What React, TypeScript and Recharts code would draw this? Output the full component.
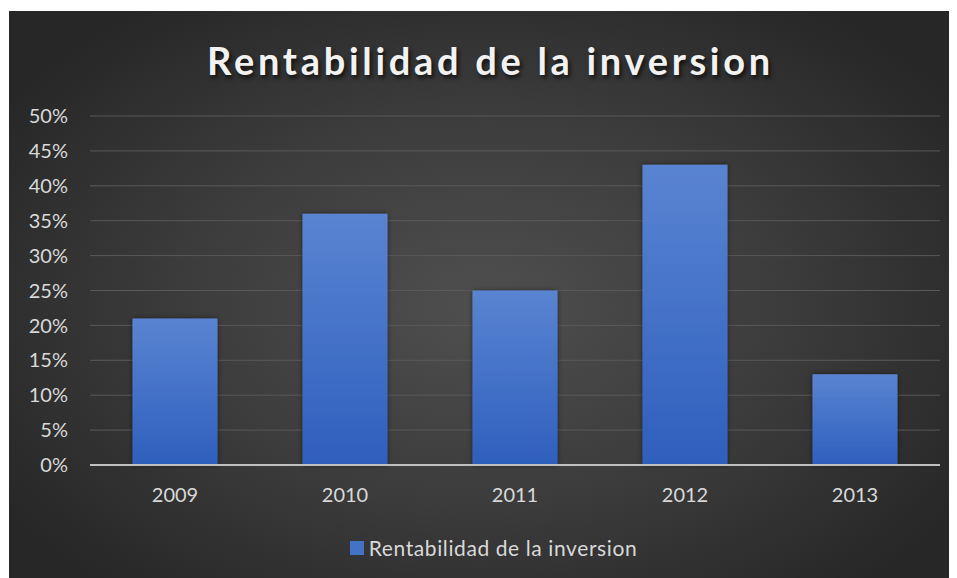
import { BarChart, Bar, XAxis, YAxis, CartesianGrid } from 'recharts';

const years = ['2009', '2010', '2011', '2012', '2013'];
const rentabilidad = [0.21, 0.36, 0.25, 0.43, 0.13];
const yTicks = [0, 0.05, 0.1, 0.15, 0.2, 0.25, 0.3, 0.35, 0.4, 0.45, 0.5];

const seriesName = 'Rentabilidad de la inversion';
const FONT = 'Lato, "Open Sans", sans-serif';

const data = years.map((year, i) => ({ year, value: rentabilidad[i] }));

export default function App() {
  return (
    <div
      style={{
        position: 'relative',
        width: 947,
        height: 567,
        marginTop: 3,
        marginLeft: 1,
        background: 'radial-gradient(ellipse 60% 65% at 50% 52%, #4f4f4f 0%, #3b3b3b 55%, #272727 100%)',
        fontFamily: FONT,
        overflow: 'hidden',
      }}
    >
      <div
        style={{
          position: 'absolute',
          top: 26,
          left: 8,
          width: 947,
          textAlign: 'center',
          color: '#f2f2f2',
          fontSize: 38,
          fontWeight: 700,
          letterSpacing: 3.7,
          textShadow: '2px 3px 4px rgba(0,0,0,0.7)',
        }}
      >
        {seriesName}
      </div>
      <BarChart
        width={947}
        height={567}
        data={data}
        margin={{ top: 105, right: 16, bottom: 83, left: 0 }}
        barCategoryGap="25%"
      >
        <defs>
          <linearGradient id="barFill" x1="0" y1="0" x2="0" y2="1">
            <stop offset="0%" stopColor="#5a84d2" />
            <stop offset="100%" stopColor="#2e5fbd" />
          </linearGradient>
          <filter id="barShadow" x="-20%" y="-20%" width="140%" height="140%">
            <feDropShadow dx="0" dy="0" stdDeviation="2.5" floodColor="#000" floodOpacity="0.5" />
          </filter>
        </defs>
        <CartesianGrid vertical={false} stroke="#595959" strokeWidth={1} />
        <XAxis
          dataKey="year"
          height={30}
          axisLine={{ stroke: '#c0c0c0', strokeWidth: 2 }}
          tickLine={false}
          tickSize={0}
          tickMargin={23}
          tick={{ fill: '#d9d9d9', fontSize: 20, fontFamily: FONT }}
        />
        <YAxis
          domain={[0, 0.5]}
          ticks={yTicks}
          interval={0}
          width={81}
          axisLine={false}
          tickLine={false}
          tickSize={0}
          tickMargin={22}
          tickFormatter={(v: number) => `${Math.round(v * 100)}%`}
          tick={{ fill: '#d9d9d9', fontSize: 20, fontFamily: FONT }}
        />
        <Bar
          dataKey="value"
          name={seriesName}
          fill="url(#barFill)"
          filter="url(#barShadow)"
          isAnimationActive={false}
        />
      </BarChart>
      <div
        style={{
          position: 'absolute',
          top: 524,
          left: 0,
          width: 947,
          display: 'flex',
          justifyContent: 'center',
          alignItems: 'center',
          color: '#d9d9d9',
          fontSize: 21,
          letterSpacing: 0.6,
        }}
      >
        <div style={{ paddingLeft: 22, display: 'flex', alignItems: 'center' }}>
          <span style={{ width: 14, height: 14, background: '#4472c4', marginRight: 5, display: 'inline-block' }} />
          <span>{seriesName}</span>
        </div>
      </div>
    </div>
  );
}
